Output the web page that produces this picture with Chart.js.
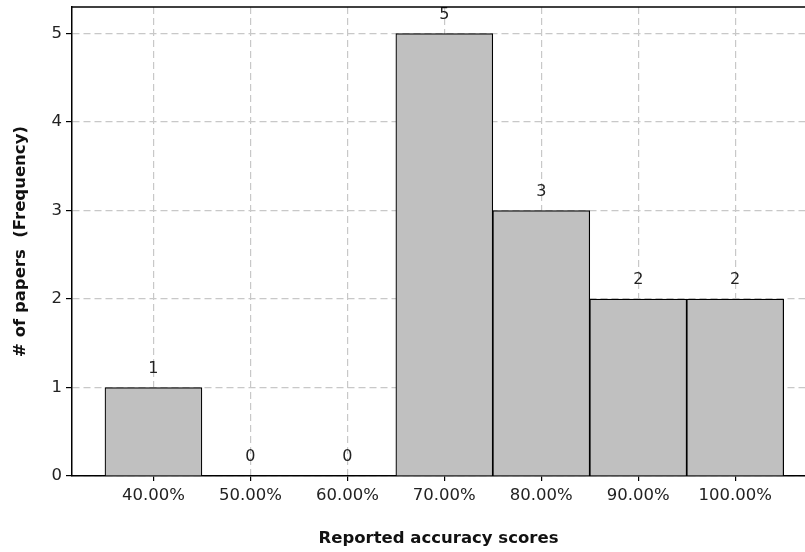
<!DOCTYPE html>
<html>
<head>
<meta charset="utf-8">
<script src="https://cdn.jsdelivr.net/npm/chart.js@4/dist/chart.umd.min.js"></script>
<style>
html,body{margin:0;padding:0;background:#fff;}
#wrap{width:805px;height:552px;}
</style>
</head>
<body>
<div id="wrap"><canvas id="c" width="805" height="552"></canvas></div>
<script>
const binCenters = [40, 50, 60, 70, 80, 90, 100];
const frequencies = [1, 0, 0, 5, 3, 2, 2];
const yTicks = [0, 1, 2, 3, 4, 5];
const xTitle = 'Reported accuracy scores';
const yTitle = '# of papers  (Frequency)';

const FONT = '"DejaVu Sans", sans-serif';

const labelPlugin = {
  id: 'valLabels',
  afterDatasetsDraw(chart) {
    const ctx = chart.ctx;
    const meta = chart.getDatasetMeta(0);
    ctx.save();
    ctx.font = '16px ' + FONT;
    ctx.fillStyle = '#222';
    ctx.textAlign = 'center';
    ctx.textBaseline = 'middle';
    meta.data.forEach((bar, i) => {
      ctx.fillText(String(frequencies[i]), bar.x, bar.y - 19);
    });
    ctx.restore();
  },
  afterDraw(chart) {
    const a = chart.chartArea;
    const ctx = chart.ctx;
    ctx.save();
    ctx.strokeStyle = '#000';
    ctx.lineWidth = 1.5;
    ctx.beginPath();
    ctx.moveTo(a.left, a.top);
    ctx.lineTo(a.right, a.top);
    ctx.stroke();
    ctx.restore();
  }
};

new Chart(document.getElementById('c'), {
  type: 'bar',
  data: {
    datasets: [{
      data: binCenters.map((x, i) => ({x: x, y: frequencies[i]})),
      backgroundColor: '#c0c0c0',
      borderColor: '#000',
      borderWidth: 1.2,
      barPercentage: 1,
      categoryPercentage: 1
    }]
  },
  options: {
    responsive: false,
    animation: false,
    layout: {padding: {top: 7, right: 0, left: 0, bottom: 0}},
    plugins: {legend: {display: false}, tooltip: {enabled: false}},
    scales: {
      x: {
        type: 'linear',
        offset: false,
        min: 31.6,
        max: 107.2,
        afterBuildTicks(scale) { scale.ticks = binCenters.map(v => ({value: v})); },
        afterFit(scale) { scale.height = 76; scale.paddingLeft = 0; scale.paddingRight = 0; },
        ticks: {
          font: {family: FONT, size: 16.5},
          color: '#222',
          padding: 5,
          maxRotation: 0,
          callback: v => v.toFixed(2) + '%'
        },
        grid: {
          offset: false,
          color: '#c8c8c8',
          lineWidth: 1.2,
          tickColor: '#000',
          tickLength: 5,
          tickBorderDash: []
        },
        border: {color: '#000', width: 1.5, dash: [7, 4]},
        title: {
          display: true,
          text: xTitle,
          font: {family: FONT, size: 16.5, weight: 'bold'},
          color: '#111',
          padding: {top: 4, bottom: 3}
        }
      },
      y: {
        min: 0,
        max: 5.3,
        afterBuildTicks(scale) { scale.ticks = yTicks.map(v => ({value: v})); },
        afterFit(scale) { scale.width = 72; scale.paddingTop = 0; scale.paddingBottom = 0; },
        ticks: {
          font: {family: FONT, size: 16.5},
          color: '#222',
          padding: 4
        },
        grid: {
          color: '#c8c8c8',
          lineWidth: 1.2,
          tickColor: '#000',
          tickLength: 6,
          tickBorderDash: []
        },
        border: {color: '#000', width: 1.5, dash: [7, 4]},
        title: {
          display: true,
          text: yTitle,
          font: {family: FONT, size: 16.5, weight: 'bold'},
          color: '#111',
          padding: {top: 11, bottom: 4}
        }
      }
    }
  },
  plugins: [labelPlugin]
});
</script>
</body>
</html>
